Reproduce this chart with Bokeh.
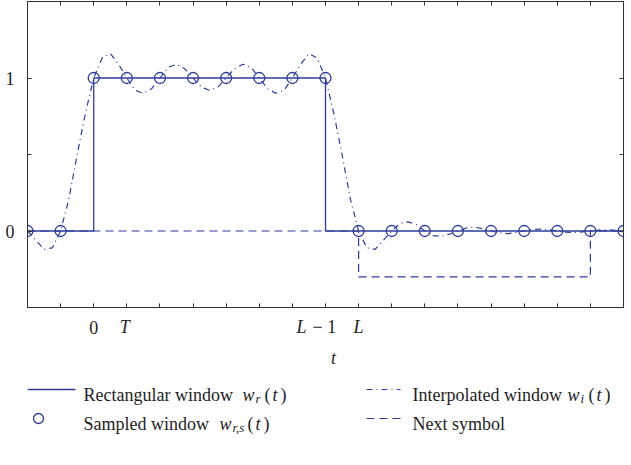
from bokeh.plotting import figure
from bokeh.models import FixedTicker, LinearAxis
from bokeh.layouts import column
from bokeh.embed import file_html
from bokeh.resources import INLINE
from bokeh.core.properties import value

# ---------------- data ----------------
sample_t = [-2, -1, 0, 1, 2, 3, 4, 5, 6, 7, 8, 9, 10, 11, 12, 13, 14, 15, 16]
sample_v = [0, 0, 1, 1, 1, 1, 1, 1, 1, 1, 0, 0, 0, 0, 0, 0, 0, 0, 0]

rect_t = [-2, 0, 0, 7, 7, 16]
rect_v = [0, 0, 1, 1, 0, 0]

next_t = [-2, 8, 8, 15, 15, 16]
next_v = [0, 0, -0.3, -0.3, 0, 0]

interp_t = [-2.0, -1.75, -1.5, -1.25, -1.0, -0.75, -0.5, -0.25,
            0.0, 0.25, 0.5, 0.75, 1.0, 1.25, 1.5, 1.75,
            2.0, 2.25, 2.5, 2.75, 3.0, 3.25, 3.5, 3.75,
            4.0, 4.25, 4.5, 4.75, 5.0, 5.25, 5.5, 5.75,
            6.0, 6.25, 6.5, 6.75, 7.0, 7.25, 7.5, 7.75,
            8.0, 8.25, 8.5, 8.75, 9.0, 9.25, 9.5, 9.75,
            10.0, 10.25, 10.5, 10.75, 11.0, 11.25, 11.5, 11.75,
            12.0, 12.25, 12.5, 12.75, 13.0, 13.25, 13.5, 13.75,
            14.0, 14.25, 14.5, 14.75, 15.0, 15.25, 15.5, 15.75, 16.0]
interp_v = [0.0, -0.06, -0.12, -0.11, 0.0, 0.21, 0.50, 0.77,
            1.0, 1.13, 1.16, 1.09, 1.0, 0.92, 0.90, 0.93,
            1.0, 1.07, 1.09, 1.06, 1.0, 0.94, 0.92, 0.94,
            1.0, 1.06, 1.09, 1.07, 1.0, 0.93, 0.90, 0.92,
            1.0, 1.09, 1.16, 1.13, 1.0, 0.77, 0.50, 0.21,
            0.0, -0.11, -0.12, -0.06, 0.0, 0.05, 0.06, 0.04,
            0.0, -0.03, -0.035, -0.02, 0.0, 0.02, 0.025, 0.015,
            0.0, -0.012, -0.017, -0.01, 0.0, 0.01, 0.013, 0.008,
            0.0, -0.008, -0.01, -0.006, 0.0, 0.006, 0.008, 0.005, 0.0]

x_minor_ticks = [-2, -1, 0, 1, 2, 3, 4, 5, 6, 7, 8, 9, 10, 11, 12, 13, 14, 15, 16]
y_minor_ticks = [-0.5, 0, 0.5, 1, 1.5]
y_major_ticks = [0, 1]
x_label_upright_pos = [0]
x_label_upright = ["0"]
x_label_italic_pos = [1, 8]
x_label_italic = ["T", "L"]
x_label_lm1 = ("L", "− 1")   # label at tick 7
x_label_lm1_pos = 7
x_title = "t"

legend_names = ["Rectangular window", "Sampled window", "Interpolated window", "Next symbol"]
legend_subs = ["r", "r,s", "i"]

# ---------------- style ----------------
BLUE = "#2f3c9c"
AX = "#333333"
TXT = "#1e1e1e"
FONT = value("Liberation Serif")
FS = "18px"

p = figure(width=624, height=308, x_range=(-2, 16), y_range=(-0.5, 1.5),
           output_backend="svg", toolbar_location=None,
           x_axis_type=None, y_axis_type=None,
           min_border_left=27, min_border_right=1, min_border_top=1,
           min_border_bottom=1)
p.grid.visible = False
p.outline_line_color = AX
p.outline_line_width = 1
p.background_fill_color = "white"
p.border_fill_color = "white"


def make_axis(major, minor):
    ax = LinearAxis(ticker=FixedTicker(ticks=major, minor_ticks=minor))
    ax.major_tick_in = 4
    ax.major_tick_out = 0
    ax.minor_tick_in = 4
    ax.minor_tick_out = 0
    ax.axis_line_color = AX
    ax.major_tick_line_color = AX
    ax.minor_tick_line_color = AX
    ax.major_label_text_font = "Liberation Serif"
    ax.major_label_text_font_size = FS
    ax.major_label_text_color = TXT
    ax.major_label_standoff = 13
    return ax


p.add_layout(make_axis([], x_minor_ticks), "below")
p.add_layout(make_axis([], x_minor_ticks), "above")
p.add_layout(make_axis(y_major_ticks, y_minor_ticks), "left")
p.add_layout(make_axis([], y_minor_ticks), "right")

# next symbol (dashed)
p.line(next_t, next_v, line_color=BLUE, line_width=1.2, line_dash="8 5")
# rectangular window (solid)
p.line(rect_t, rect_v, line_color=BLUE, line_width=1.3)
# interpolated window (dash-dot)
p.line(interp_t, interp_v, line_color=BLUE, line_width=1.2, line_dash="6 4 1 4")
# sampled window (circles)
p.scatter(sample_t, sample_v, marker="circle", size=11, line_color=BLUE,
          line_width=1.3, fill_alpha=0)

# ---------------- lower figure: tick labels, axis title, legend ----------------
LH = 157
lg = figure(width=624, height=LH, x_range=p.x_range, y_range=(0, LH),
            output_backend="svg", toolbar_location=None,
            x_axis_type=None, y_axis_type=None, min_border=0)
lg.grid.visible = False
lg.outline_line_color = None
lg.background_fill_color = "white"
lg.border_fill_color = "white"

TOP = 465  # page y of the bottom edge of the lower figure


def px(sx):
    """page x (pixels) -> data x of the shared range (frame 27..623)"""
    return -2 + (sx - 27) * 18.0 / 596.0


def py(sy):
    """page y (pixels) -> data y of the lower figure"""
    return TOP - sy


tick_y = py(326.5)
lg.text(x=x_label_upright_pos, y=[tick_y], text=x_label_upright, text_font=FONT,
        text_font_size=FS, text_align="center", text_baseline="middle", text_color=TXT)
lg.text(x=x_label_italic_pos, y=[tick_y, tick_y], text=x_label_italic, x_offset=[-2, 0],
        text_font=FONT, text_font_size=FS, text_font_style="italic",
        text_align="center", text_baseline="middle", text_color=TXT)
lg.text(x=[x_label_lm1_pos], y=[tick_y], text=[x_label_lm1[0]], x_offset=-19,
        text_font=FONT, text_font_size=FS, text_font_style="italic",
        text_align="right", text_baseline="middle", text_color=TXT)
lg.text(x=[x_label_lm1_pos], y=[tick_y], text=[x_label_lm1[1]], x_offset=-13,
        text_font=FONT, text_font_size=FS,
        text_align="left", text_baseline="middle", text_color=TXT)
lg.text(x=[px(333)], y=[py(357)], text=[x_title], text_font=FONT, text_font_size=FS,
        text_font_style="italic", text_align="center", text_baseline="middle", text_color=TXT)

# legend
r1, r2 = py(394), py(423)      # baselines of the two rows
mid1, mid2 = r1 + 5, r2 + 5
c1, c2 = px(83), px(412)
lg.line([px(27), px(75)], [mid1, mid1], line_color=BLUE, line_width=1.3)
lg.scatter([px(38)], [mid2], marker="circle", size=10, line_color=BLUE, line_width=1.3,
           fill_alpha=0)
lg.line([px(366), px(400)], [mid1, mid1], line_color=BLUE, line_width=1.2, line_dash="6 4 1 4")
lg.line([px(366), px(400)], [mid2, mid2], line_color=BLUE, line_width=1.2, line_dash="8 5")

txt_kw = dict(text_font=FONT, text_font_size=FS, text_baseline="alphabetic",
              text_align="left", text_color=TXT)
lg.text(x=[c1, c1, c2, c2], y=[r1, r2, r1, r2], text=legend_names, **txt_kw)

# math parts w_sub(t): page-x of w, subscript, "(", t, ")"
math_px = [(242, 255, 264, 272, 280), (219, 232, 247, 255, 263), (567, 580, 588, 596, 604)]
math_y = [r1, r2, r1]
for (xw, xs, xo, xt, xc), yb, sub in zip(math_px, math_y, legend_subs):
    lg.text(x=[px(xw)], y=[yb], text=["w"], text_font=FONT, text_font_size=FS,
            text_font_style="italic", text_baseline="alphabetic", text_color=TXT)
    lg.text(x=[px(xs)], y=[yb - 4], text=[sub], text_font=FONT, text_font_size="13px",
            text_font_style="italic", text_baseline="alphabetic", text_color=TXT)
    lg.text(x=[px(xo), px(xc)], y=[yb, yb], text=["(", ")"], **txt_kw)
    lg.text(x=[px(xt)], y=[yb], text=["t"], text_font=FONT, text_font_size=FS,
            text_font_style="italic", text_baseline="alphabetic", text_color=TXT)

layout = column(p, lg, spacing=0)
open("out.html", "w").write(file_html(layout, INLINE))
